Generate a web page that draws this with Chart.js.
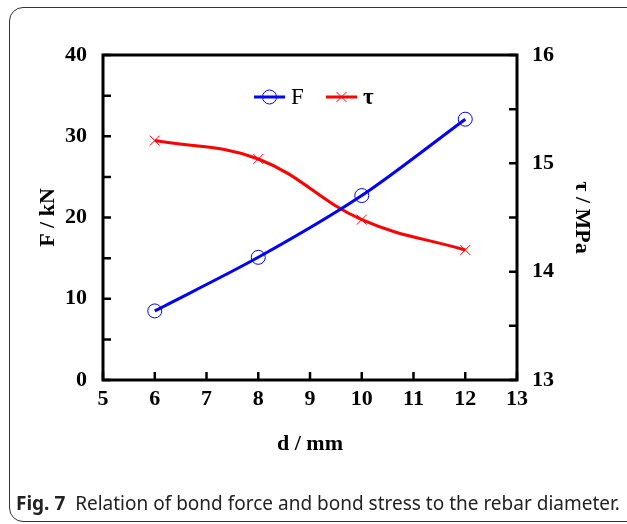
<!DOCTYPE html>
<html>
<head>
<meta charset="utf-8">
<script src="https://cdn.jsdelivr.net/npm/chart.js@4.4.1/dist/chart.umd.min.js"></script>
<style>
  html, body { margin: 0; padding: 0; background: #fff; width: 627px; height: 524px; overflow: hidden; }
  #frame { position: absolute; left: 9px; top: 7px; width: 660px; height: 515px; border: 1.5px solid #333; border-radius: 14px; box-sizing: border-box; }
  #wrap { position: absolute; left: 0; top: 0; width: 627px; height: 524px; }
  #caption { position: absolute; left: 16px; top: 490px; font-family: "Noto Sans", sans-serif; font-size: 19px; color: #222; white-space: nowrap; }
  #caption b { font-weight: 700; }
</style>
</head>
<body>
<div id="frame"></div>
<div id="wrap"><canvas id="c" width="627" height="524"></canvas></div>
<div id="caption"><b>Fig. 7</b>&nbsp; Relation of bond force and bond stress to the rebar diameter.</div>
<script>
const diameters = [6, 8, 10, 12];
const forceKN = [8.5, 15.1, 22.7, 32.1];
const stressMPa = [15.21, 15.04, 14.48, 14.2];
const xTicks = [5, 6, 7, 8, 9, 10, 11, 12, 13];
const forceTicks = [0, 10, 20, 30, 40];
const stressTicks = [13, 14, 15, 16];

const serif = "'Liberation Serif', 'Times New Roman', serif";
const tickFont = { family: serif, size: 22, weight: 'bold' };

const frameTicks = {
  id: 'frameTicks',
  afterDatasetsDraw(chart) {
    const { ctx, chartArea: a, scales } = chart;
    ctx.save();
    ctx.strokeStyle = '#000';
    ctx.lineWidth = 2.5;
    const L = 8;
    ctx.beginPath();
    scales.x.ticks.forEach(t => { const px = scales.x.getPixelForValue(t.value); ctx.moveTo(px, a.bottom); ctx.lineTo(px, a.bottom - L); });
    scales.y.ticks.forEach(t => { const py = scales.y.getPixelForValue(t.value); ctx.moveTo(a.left, py); ctx.lineTo(a.left + L, py); });
    scales.y1.ticks.forEach(t => { const py = scales.y1.getPixelForValue(t.value); ctx.moveTo(a.right, py); ctx.lineTo(a.right - L, py); });
    ctx.stroke();
    ctx.lineWidth = 3;
    ctx.strokeRect(a.left, a.top, a.right - a.left, a.bottom - a.top);
    // legend
    const items = [
      { ds: chart.data.datasets[0], x: 254, font: "23px " + serif },
      { ds: chart.data.datasets[1], x: 326, font: "bold 23px " + serif }
    ];
    const ly = 97;
    items.forEach(it => {
      ctx.strokeStyle = it.ds.borderColor;
      ctx.lineWidth = 3;
      ctx.beginPath(); ctx.moveTo(it.x, ly); ctx.lineTo(it.x + 31, ly); ctx.stroke();
      ctx.lineWidth = 1;
      ctx.fillStyle = 'rgba(0,0,0,0)';
      Chart.helpers.drawPoint(ctx, {
        pointStyle: it.ds.pointStyle, radius: it.ds.pointRadius, borderWidth: it.ds.pointBorderWidth,
        rotation: 0
      }, it.x + 15.5, ly);
      ctx.fillStyle = '#000';
      ctx.font = it.font;
      ctx.textBaseline = 'middle';
      ctx.textAlign = 'left';
      ctx.fillText(it.ds.label, it.x + 37, ly + 1);
    });
    ctx.restore();
  }
};

new Chart(document.getElementById('c'), {
  type: 'line',
  data: {
    datasets: [
      {
        label: 'F', yAxisID: 'y',
        data: diameters.map((d, i) => ({ x: d, y: forceKN[i] })),
        borderColor: '#0000ff', borderWidth: 3, tension: 0.3,
        pointStyle: 'circle', pointRadius: 7, pointBorderWidth: 1,
        pointBorderColor: '#0000ff', pointBackgroundColor: 'rgba(0,0,0,0)'
      },
      {
        label: 'τ', yAxisID: 'y1',
        data: diameters.map((d, i) => ({ x: d, y: stressMPa[i] })),
        borderColor: '#ff0000', borderWidth: 3, tension: 0.4,
        pointStyle: 'crossRot', pointRadius: 7, pointBorderWidth: 1,
        pointBorderColor: '#ff0000', pointBackgroundColor: 'rgba(0,0,0,0)'
      }
    ]
  },
  options: {
    responsive: false, animation: false,
    layout: { padding: { top: 55, left: 0, right: 0, bottom: 0 } },
    plugins: { legend: { display: false }, tooltip: { enabled: false } },
    scales: {
      x: {
        type: 'linear', min: 5, max: 13,
        afterBuildTicks: s => { s.ticks = xTicks.map(v => ({ value: v })); },
        afterFit: s => { s.height = 144; },
        grid: { display: false, drawTicks: false },
        border: { display: false },
        ticks: { font: tickFont, color: '#000', padding: 6, autoSkip: false, maxRotation: 0 },
        title: { display: true, text: 'd / mm', font: tickFont, color: '#000', padding: { top: 0, bottom: 66 } }
      },
      y: {
        type: 'linear', position: 'left', min: 0, max: 40,
        ticks: { stepSize: 5, font: tickFont, color: '#000', padding: 16,
          callback: v => forceTicks.includes(v) ? String(v) : '' },
        afterFit: s => { s.width = 103; },
        grid: { display: false, drawTicks: false },
        border: { display: false },
        title: { display: true, text: 'F / kN', font: tickFont, color: '#000', padding: { top: 35, bottom: 0 } }
      },
      y1: {
        type: 'linear', position: 'right', min: 13, max: 16,
        ticks: { stepSize: 0.5, font: tickFont, color: '#000', padding: 15,
          callback: v => stressTicks.includes(v) ? String(v) : '' },
        afterFit: s => { s.width = 110; },
        grid: { display: false, drawTicks: false },
        border: { display: false },
        title: { display: true, text: 'τ / MPa', font: tickFont, color: '#000', padding: { top: 32, bottom: 0 } }
      }
    }
  },
  plugins: [frameTicks]
});
</script>
</body>
</html>
